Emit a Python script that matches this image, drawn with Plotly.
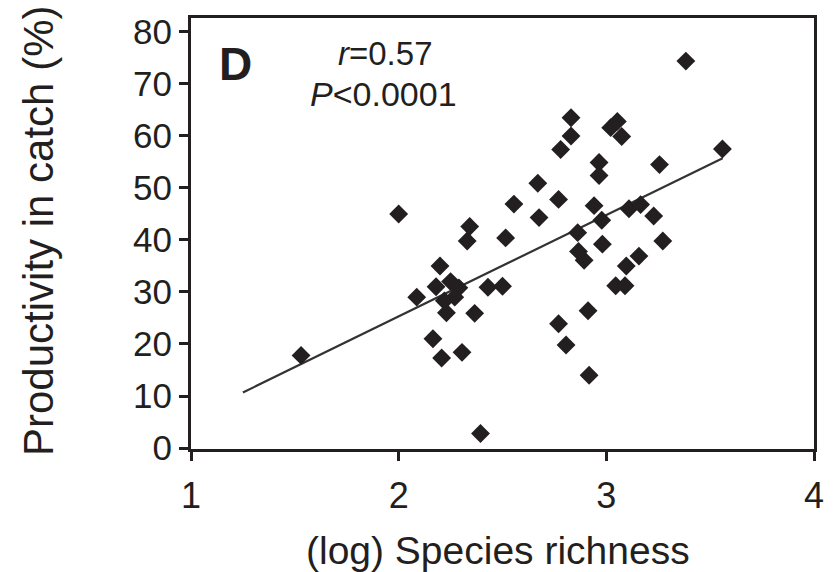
import plotly.graph_objects as go

# ---- data ----
richness = [1.53, 2.00, 2.087, 2.199, 2.18, 2.25, 2.29, 2.27, 2.22, 2.23,
            2.165, 2.207, 2.305, 2.366, 2.394, 2.342, 2.33, 2.43, 2.50, 2.515,
            2.555, 2.67, 2.676, 2.77, 2.78, 2.83, 2.83, 2.77, 2.806, 2.862,
            2.866, 2.893, 2.912, 2.917, 2.941, 2.965, 2.965, 2.978, 2.981, 3.021,
            3.053, 3.074, 3.109, 3.165, 3.228, 3.256, 3.272, 3.157, 3.096, 3.045,
            3.09, 3.383, 3.559]
productivity = [17.8, 45.0, 29.0, 35.0, 31.0, 32.0, 30.8, 29.0, 28.3, 26.0,
                21.0, 17.3, 18.4, 25.9, 2.8, 42.6, 39.8, 30.9, 31.1, 40.4,
                46.9, 50.9, 44.3, 47.8, 57.4, 63.5, 60.0, 23.9, 19.8, 41.4,
                37.8, 36.1, 26.4, 14.0, 46.6, 54.9, 52.4, 43.8, 39.2, 61.6,
                62.8, 59.9, 46.0, 46.8, 44.6, 54.5, 39.8, 36.9, 35.0, 31.2,
                31.2, 74.4, 57.5]

fit_x = [1.25, 3.56]
fit_slope = 19.5
fit_intercept = -13.7

x_ticks = [1, 2, 3, 4]
y_ticks = [0, 10, 20, 30, 40, 50, 60, 70, 80]

panel_label = "D"
stat_r = "<i>r</i>=0.57"
stat_p = "<i>P</i>&lt;0.0001"
x_title = "(log) Species richness"
y_title = "Productivity in catch (%)"

# ---- figure ----
INK = "#231f20"
FONT = "Liberation Sans, Arial, Helvetica, sans-serif"

fit_y = [fit_slope * x + fit_intercept for x in fit_x]

fig = go.Figure()
fig.add_trace(go.Scatter(
    x=fit_x, y=fit_y, mode="lines",
    line=dict(color="#333333", width=2.2),
    hoverinfo="skip", showlegend=False))
fig.add_trace(go.Scatter(
    x=richness, y=productivity, mode="markers",
    marker=dict(symbol="diamond", size=14.5, color=INK, line=dict(width=0)),
    showlegend=False))

W, H = 839, 572
L, R, T, B = 191, 25, 16, 123
pw, ph = W - L - R, H - T - B

def px_to_paper(px, py):
    return (px - L) / pw, (H - B - py) / ph

def note(text, px, py, size, angle=0):
    ax_, ay_ = px_to_paper(px, py)
    return dict(text=text, x=ax_, y=ay_, xref="paper", yref="paper",
                xanchor="center", yanchor="middle", textangle=angle,
                showarrow=False, font=dict(size=size, color=INK, family=FONT))

annots = [
    note("<b>" + panel_label + "</b>", 235, 62, 46),
    note(stat_r, 385, 52, 33),
    note(stat_p, 383, 92, 34),
    note(x_title, 498, 551, 39),
    note(y_title, 38, 230, 42, angle=-90),
]

fig.update_layout(
    width=W, height=H,
    margin=dict(l=L, r=R, t=T, b=B, pad=0),
    paper_bgcolor="white", plot_bgcolor="white",
    font=dict(family=FONT, color=INK),
    annotations=annots,
    xaxis=dict(range=[1, 4], tickvals=x_ticks, ticktext=[str(v) for v in x_ticks],
               showgrid=False, zeroline=False, showline=True, mirror=True,
               linecolor=INK, linewidth=3, ticks="outside", ticklen=9,
               tickwidth=3, tickcolor=INK, ticklabelstandoff=4,
               tickfont=dict(size=36, color=INK, family=FONT)),
    yaxis=dict(range=[-0.19, 82.68], tickvals=y_ticks, ticktext=[str(v) for v in y_ticks],
               showgrid=False, zeroline=False, showline=True, mirror=True,
               linecolor=INK, linewidth=3, ticks="outside", ticklen=9,
               tickwidth=3, tickcolor=INK,
               tickfont=dict(size=35, color=INK, family=FONT)),
)

fig.write_html("out.html", config={"displayModeBar": False},
               post_script="document.body.style.margin='0px';")
